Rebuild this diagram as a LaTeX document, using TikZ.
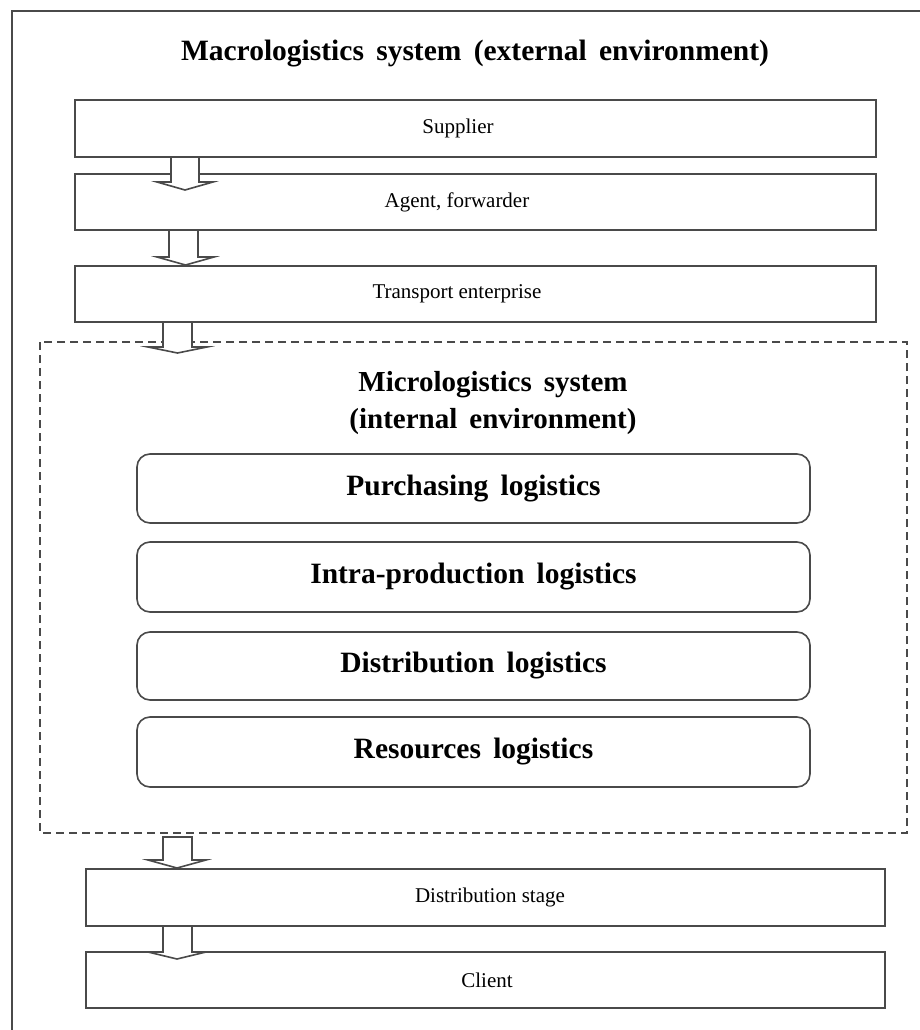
\documentclass[tikz,border=0pt]{standalone}
\usepackage{fontspec}
\setmainfont{Liberation Serif}
\definecolor{lc}{HTML}{4A4A4A}
\begin{document}
\begin{tikzpicture}[x=1pt,y=-1pt,
  ln/.style={draw=lc, line width=1.6pt},
  stagebox/.style={ln, rectangle, inner sep=0pt},
  subbox/.style={ln, rectangle, rounded corners=13pt, inner sep=0pt, minimum width=673pt},
  regtext/.style={font=\fontsize{21}{25}\selectfont, inner sep=0pt},
  boldtext/.style={font=\fontsize{29.5}{34}\selectfont\bfseries, inner sep=0pt},
  microtext/.style={font=\fontsize{29}{37}\selectfont\bfseries, inner sep=0pt},
  blockarrow/.style={ln, fill=white, line join=miter}
]
\clip (0,0) rectangle (920,1030);
\fill[white] (0,0) rectangle (920,1030);
% outer frame (right and bottom edges lie outside the picture)
\draw[ln] (12,11) rectangle (940,1050);

\node[boldtext] (title) at (475,54) {Macrologistics\, system\, (external\, environment)};

% external stages
\node[stagebox, minimum width=801pt, minimum height=57pt] (sup) at (475.5,128.5) {};
\node[regtext] (supt) at (458,128.5) {Supplier};
\node[stagebox, minimum width=801pt, minimum height=56pt] (agt) at (475.5,202) {};
\node[regtext] (agtt) at (457,202) {Agent, forwarder};
\node[stagebox, minimum width=801pt, minimum height=56pt] (trn) at (475.5,294) {};
\node[regtext] (trnt) at (457,294) {Transport enterprise};

% micrologistics system
\draw[ln, dash pattern=on 8pt off 5pt] (40,342) rectangle (907,833);
\node[microtext, align=center] (micro) at (493,403) {Micrologistics\, system\\(internal\, environment)};

\node[subbox, minimum height=69pt] (pur) at (473.5,488.5) {};
\node[boldtext] (purt) at (473.5,488.5) {Purchasing\, logistics};
\node[subbox, minimum height=70pt] (intra) at (473.5,577) {};
\node[boldtext] (intrat) at (473.5,577) {Intra-production\, logistics};
\node[subbox, minimum height=68pt] (dist) at (473.5,666) {};
\node[boldtext] (distt) at (473.5,666) {Distribution\, logistics};
\node[subbox, minimum height=70pt] (res) at (473.5,752) {};
\node[boldtext] (rest) at (473.5,752) {Resources\, logistics};

% lower stages
\node[stagebox, minimum width=799pt, minimum height=57pt] (dst) at (485.5,897.5) {};
\node[regtext] (dstt) at (490,897.5) {Distribution stage};
\node[stagebox, minimum width=799pt, minimum height=56pt] (cli) at (485.5,980) {};
\node[regtext] (clit) at (487,980) {Client};

% block arrows: shaft left, shaft right, top, wing y, wing left, wing right, tip y
\newcommand{\blkarrow}[7]{%
  \draw[blockarrow] (#1,#3) -- (#1,#4) -- (#5,#4) -- ({(#5+#6)/2},#7) -- (#6,#4) -- (#2,#4) -- (#2,#3) -- cycle;}
\blkarrow{171}{199}{157}{182}{157}{213}{190}
\blkarrow{169}{198}{230}{257}{157}{214}{265}
\blkarrow{163}{192}{322}{347}{148}{207}{353}
\blkarrow{163}{192}{837}{860}{148}{206}{868}
\blkarrow{163}{192}{926}{952}{148}{206}{959}
\end{tikzpicture}
\end{document}
